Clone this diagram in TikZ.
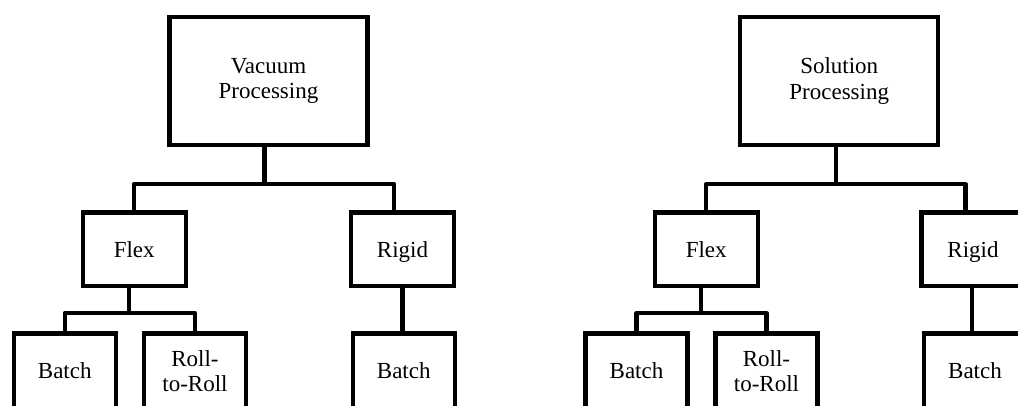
\documentclass[tikz,border=0pt]{standalone}
\usepackage{fontspec}
\setmainfont{Liberation Serif}
\begin{document}
\begin{tikzpicture}[x=1pt,y=-1pt,
  box/.style={draw=black, line width=4.2pt, fill=white, inner sep=0pt,
    align=center, font=\fontsize{23}{25.5}\selectfont},
  topbox/.style={box, minimum width=198pt, minimum height=128.5pt},
  midbox/.style={box, minimum width=103pt, minimum height=73.5pt,
    text height=17pt, text depth=0pt},
  leafbox/.style={box, minimum width=102pt, minimum height=75pt},
  conn/.style={draw=black, line width=4.2pt, line join=round}]
\useasboundingbox (0,0) rectangle (1018,406);
\clip (0,0) rectangle (1018,406);

% ---- Vacuum processing tree ----
\node[topbox]  (vacL)    at (268.5,81) {Vacuum\\Processing};
\node[midbox]  (flexL)   at (134.25,249.25) {Flex};
\node[midbox]  (rigidL)  at (402.5,249.25) {Rigid};
\node[leafbox] (batchL)  at (64.75,371) {Batch};
\node[leafbox] (rollL)   at (195,371) {Roll-\\to-Roll};
\node[leafbox] (rbatchL) at (403.75,371) {Batch};

\coordinate (aL) at (264.5,184);
\coordinate (bL) at (394,184);
\coordinate (cL) at (129,313);
\draw[conn] (vacL.south -| aL) -- (aL);
\draw[conn] (flexL.north) |- (bL) -- (bL |- rigidL.north);
\draw[conn] (flexL.south -| cL) -- (cL);
\draw[conn] (batchL.north) |- (rollL.north |- cL) -- (rollL.north);
\draw[conn] (rigidL.south) -- (rigidL.south |- rbatchL.north);

% ---- Solution processing tree ----
\node[topbox]  (solR)    at (839.25,81) {Solution\\Processing};
\node[midbox]  (flexR)   at (706.25,249.25) {Flex};
\node[midbox]  (rigidR)  at (973,249.25) {Rigid};
\node[leafbox] (batchR)  at (636.5,371) {Batch};
\node[leafbox] (rollR)   at (766.5,371) {Roll-\\to-Roll};
\node[leafbox] (rbatchR) at (975,371) {Batch};

\coordinate (aR) at (836,184);
\coordinate (bR) at (965.5,184);
\coordinate (cR) at (701,313);
\coordinate (dR) at (972,310);
\draw[conn] (solR.south -| aR) -- (aR);
\draw[conn] (flexR.north) |- (bR) -- (bR |- rigidR.north);
\draw[conn] (flexR.south -| cR) -- (cR);
\draw[conn] (batchR.north) |- (rollR.north |- cR) -- (rollR.north);
\draw[conn] (rigidR.south -| dR) -- (rbatchR.north -| dR);
\end{tikzpicture}
\end{document}
